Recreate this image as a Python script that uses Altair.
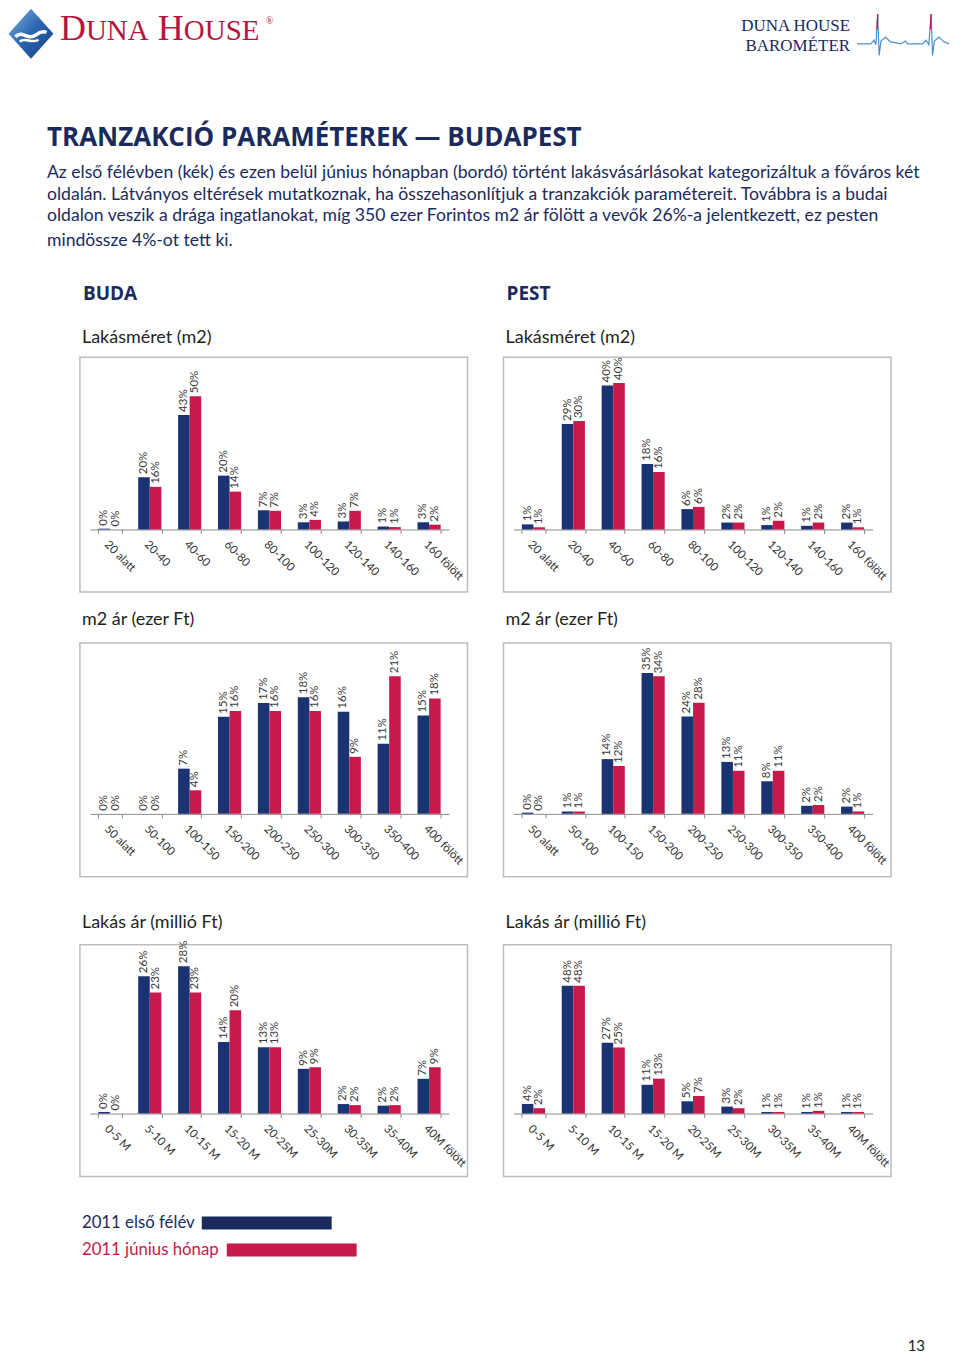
import altair as alt
import pandas as pd

# ---------------- data ----------------
series_names = ["2011 első félév", "2011 június hónap"]

size_categories = ["20 alatt", "20-40", "40-60", "60-80", "80-100",
                   "100-120", "120-140", "140-160", "160 fölött"]
m2_price_categories = ["50 alatt", "50-100", "100-150", "150-200", "200-250",
                       "250-300", "300-350", "350-400", "400 fölött"]
price_categories = ["0-5 M", "5-10 M", "10-15 M", "15-20 M", "20-25M",
                    "25-30M", "30-35M", "35-40M", "40M fölött"]

buda_size_h1 = [0.3, 19.6, 43.0, 20.2, 7.2, 2.7, 3.0, 1.1, 2.7]
buda_size_jun = [0.0, 16.0, 50.0, 14.2, 7.0, 3.6, 7.0, 0.9, 1.8]
pest_size_h1 = [1.4, 29.0, 39.6, 18.0, 5.6, 1.9, 1.2, 1.0, 1.9]
pest_size_jun = [0.6, 29.8, 40.3, 15.8, 6.2, 1.9, 2.4, 1.9, 0.6]

buda_m2_h1 = [0.0, 0.0, 6.9, 14.8, 16.9, 17.8, 15.6, 10.7, 15.0]
buda_m2_jun = [0.0, 0.0, 3.6, 15.7, 15.7, 15.7, 8.7, 21.0, 17.6]
pest_m2_h1 = [0.3, 0.6, 13.6, 35.0, 24.2, 12.9, 8.1, 2.0, 1.8]
pest_m2_jun = [0.0, 0.6, 11.9, 34.2, 27.6, 10.7, 10.7, 2.2, 0.6]

buda_price_h1 = [0.3, 26.1, 28.0, 13.6, 12.6, 8.5, 1.8, 1.5, 6.6]
buda_price_jun = [0.0, 23.0, 23.0, 19.6, 12.6, 8.8, 1.6, 1.6, 8.8]
pest_price_h1 = [3.6, 48.0, 26.6, 10.8, 4.6, 2.6, 0.6, 0.6, 0.6]
pest_price_jun = [2.0, 48.0, 24.8, 13.1, 6.6, 2.0, 0.6, 1.0, 0.6]

page_title = "TRANZAKCIÓ PARAMÉTEREK — BUDAPEST"
paragraph_lines = [
    "Az első félévben (kék) és ezen belül június hónapban (bordó) történt lakásvásárlásokat kategorizáltuk a főváros két",
    "oldalán. Látványos eltérések mutatkoznak, ha összehasonlítjuk a tranzakciók paramétereit. Továbbra is a budai",
    "oldalon veszik a drága ingatlanokat, míg 350 ezer Forintos m2 ár fölött a vevők 26%-a jelentkezett, ez pesten",
    "mindössze 4%-ot tett ki.",
]
side_titles = ["BUDA", "PEST"]
panel_titles = ["Lakásméret (m2)", "m2 ár (ezer Ft)", "Lakás ár (millió Ft)"]
page_number = "13"

# ---------------- styles ----------------
FONT = "Lato"
NAVY = "#1b2a5c"
BLUE = "#1c3373"
RED = "#c8194b"
BRAND_RED = "#b3163f"
BOX = "#bdbdbd"
TITLE_GREY = "#231f20"

blank = pd.DataFrame({"n": [0]})


def txt(text, x, y, size, color, font=FONT, weight="normal", align="left",
        baseline="alphabetic"):
    return alt.Chart(blank).mark_text(
        text=text, fontSize=size, font=font, fontWeight=weight, color=color,
        align=align, baseline=baseline
    ).encode(x=alt.value(x), y=alt.value(y))


def glyph(path, x, y, size, **style):
    return alt.Chart(blank).mark_point(shape=path, size=size, **style).encode(
        x=alt.value(x), y=alt.value(y))


def spacer(w=1, h=1):
    return alt.Chart(blank).mark_point(opacity=0, size=1).encode(
        x=alt.value(1), y=alt.value(1)).properties(width=w, height=h)


def title_row(text, baseline_y, h):
    return alt.layer(
        txt(text, 74, baseline_y, 18, TITLE_GREY),
        txt(text, 498, baseline_y, 18, TITLE_GREY),
    ).properties(width=1, height=h)


# ---------------- header ----------------
diamond = "M0,-1 L0.9,0 L0,1 L-0.9,0 Z"
swoosh1 = "M-0.62,0.12 C-0.35,-0.16 -0.1,0.3 0.2,0.05 C0.35,-0.08 0.5,-0.1 0.62,-0.05"
swoosh2 = "M-0.45,0.32 C-0.22,0.12 0.02,0.42 0.3,0.24"
heart_line = ("M-1,0.2 L-0.7,0.2 L-0.63,0.12 L-0.59,0.22 L-0.55,-0.45 L-0.52,0.45 "
              "L-0.48,0.14 L-0.38,0.05 L-0.28,0.15 L-0.05,0.2 L0.05,0.14 L0.1,0.2 "
              "L0.42,0.2 L0.5,0.12 L0.56,0.22 L0.61,-0.45 L0.64,0.45 L0.68,0.14 "
              "L0.78,0.05 L0.88,0.15 L1,0.2")
heart_red = "M-0.565,-0.12 L-0.55,-0.45 M0.595,-0.12 L0.61,-0.45"

logo_fill = alt.Gradient(
    gradient="linear",
    stops=[alt.GradientStop(color="#7fb3e3", offset=0),
           alt.GradientStop(color="#2a64ad", offset=0.5),
           alt.GradientStop(color="#173f85", offset=1)],
    x1=0, y1=0, x2=1, y2=1)

PARA = 17.6
header_layers = [
    glyph(diamond, 23, 25, 2500, filled=True, fill=logo_fill, strokeWidth=0, opacity=1),
    glyph(swoosh1, 23, 25, 2500, filled=False, stroke="white", strokeWidth=3.5, opacity=1),
    glyph(swoosh2, 23, 25, 2500, filled=False, stroke="white", strokeWidth=2.5, opacity=1),
    txt("D", 52, 31, 36, BRAND_RED, font="Liberation Serif"),
    txt("UNA", 78, 31, 29, BRAND_RED, font="Liberation Serif"),
    txt("H", 150, 31, 36, BRAND_RED, font="Liberation Serif"),
    txt("OUSE", 176, 31, 29, BRAND_RED, font="Liberation Serif"),
    txt("®", 258, 15, 10, BRAND_RED, font="Liberation Serif"),
    txt("DUNA HOUSE", 843, 22, 17, NAVY, font="Liberation Serif", align="right"),
    txt("BAROMÉTER", 843, 42, 17, NAVY, font="Liberation Serif", align="right"),
    glyph(heart_line, 896, 26, 8500, filled=False, stroke="#4b8fc7", strokeWidth=1.2, opacity=1),
    glyph(heart_red, 896, 26, 8500, filled=False, stroke=RED, strokeWidth=1.4, opacity=1),
    txt(page_title, 39, 137, 26, NAVY, font="Open Sans", weight="bold"),
    txt(paragraph_lines[0], 39, 169, PARA, NAVY),
    txt(paragraph_lines[1], 39, 191, PARA, NAVY),
    txt(paragraph_lines[2], 39, 213, PARA, NAVY),
    txt(paragraph_lines[3], 39, 238, PARA, NAVY),
    txt(side_titles[0], 75, 292, 19, NAVY, font="Open Sans", weight="bold"),
    txt(side_titles[1], 499, 292, 19, NAVY, font="Open Sans", weight="bold"),
    txt(panel_titles[0], 74, 335, 18, TITLE_GREY),
    txt(panel_titles[0], 498, 335, 18, TITLE_GREY),
]
header = alt.layer(*header_layers).properties(width=72, height=349)


# ---------------- panels ----------------
def panel(cats, h1, jun, px_per_pct, base, height):
    df = pd.DataFrame({
        "kategoria": list(cats) * 2,
        "idoszak": [series_names[0]] * len(cats) + [series_names[1]] * len(cats),
        "arany": list(h1) + list(jun),
    })
    df["cimke"] = [f"{int(v + 0.5)}%" for v in df["arany"]]
    ymax = base / px_per_pct
    ymin = -(height - base) / px_per_pct
    x = alt.X("kategoria:N", sort=list(cats), title=None,
              scale=alt.Scale(range=[10, 369.5], paddingInner=0.42, paddingOuter=0.21),
              axis=alt.Axis(labelAngle=45, labelAlign="left", labelBaseline="top",
                            labelFont=FONT, labelFontSize=11.5, labelColor="#333333",
                            labelPadding=5, labelOverlap=False, domainColor="#8a8a8a",
                            domainWidth=1, tickColor="#8a8a8a", tickSize=4,
                            tickBand="extent", offset=-(height - base), grid=False))
    xo = alt.XOffset("idoszak:N", sort=series_names)
    y = alt.Y("arany:Q", scale=alt.Scale(domain=[ymin, ymax], nice=False, zero=False),
              axis=None)
    color = alt.Color("idoszak:N", scale=alt.Scale(domain=series_names, range=[BLUE, RED]),
                      legend=None)
    bars = alt.Chart(df).mark_bar().encode(x=x, xOffset=xo, y=y, y2=alt.datum(0),
                                           color=color)
    labels = alt.Chart(df).mark_text(
        angle=270, align="left", baseline="middle", dx=3, font=FONT,
        fontSize=11.5, color="#3a3a3a"
    ).encode(x=x, xOffset=xo, y=y, text="cimke:N")
    return alt.layer(bars, labels).properties(
        width=388, height=height,
        view=alt.ViewBackground(stroke=BOX, strokeWidth=1.5),
    )


p1 = panel(size_categories, buda_size_h1, buda_size_jun, 2.667, 172.3, 235)
p2 = panel(size_categories, pest_size_h1, pest_size_jun, 3.64, 172.3, 235)
p3 = panel(m2_price_categories, buda_m2_h1, buda_m2_jun, 6.56, 171, 234)
p4 = panel(m2_price_categories, pest_m2_h1, pest_m2_jun, 4.03, 171, 234)
p5 = panel(price_categories, buda_price_h1, buda_price_jun, 5.27, 169, 232)
p6 = panel(price_categories, pest_price_h1, pest_price_jun, 2.667, 169, 232)


# ---------------- footer / legend ----------------
def legend_bar(x1, x2, y1, y2, color):
    return alt.Chart(blank).mark_rect(color=color).encode(
        x=alt.value(x1), x2=alt.value(x2), y=alt.value(y1), y2=alt.value(y2))


footer = alt.layer(
    txt(series_names[0], 74, 52, 16.8, NAVY),
    legend_bar(194, 324, 40, 53, NAVY),
    txt(series_names[1], 74, 79, 16.8, RED),
    legend_bar(219, 349, 67, 80, RED),
    txt(page_number, 918, 175, 15, "#222222", align="right"),
).properties(width=72, height=178)

items = [
    header, spacer(), spacer(36, 1), spacer(),
    spacer(72, 1), p1, spacer(), p2,
    title_row(panel_titles[1], 33, 51), spacer(), spacer(), spacer(),
    spacer(), p3, spacer(), p4,
    title_row(panel_titles[2], 51, 68), spacer(), spacer(), spacer(),
    spacer(), p5, spacer(), p6,
    footer, spacer(), spacer(), spacer(),
]

chart = alt.concat(*items, columns=4, spacing=0, bounds="flush", padding=0).configure_view(
    stroke=None).configure_axis(labelFont=FONT)

chart.save("out.html", embed_options={"renderer": "svg", "actions": False})
